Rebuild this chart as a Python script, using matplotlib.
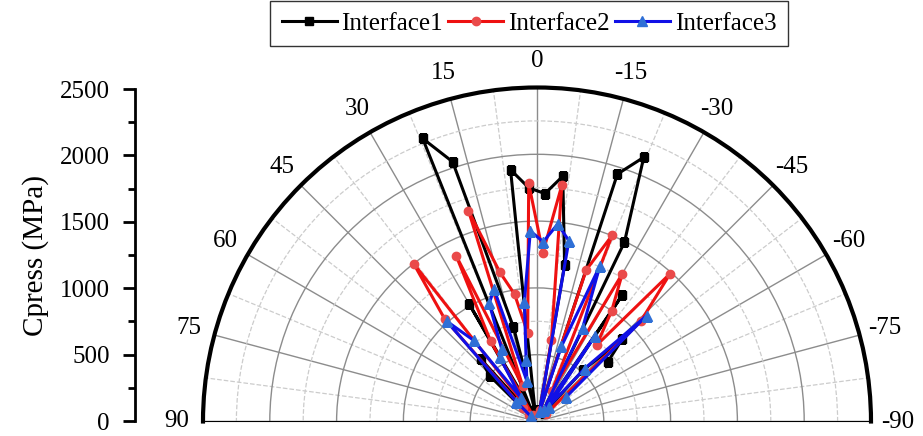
import numpy as np
import matplotlib
matplotlib.use("Agg")
import matplotlib.pyplot as plt

plt.rcParams["font.family"] = ["Liberation Serif", "DejaVu Serif"]

# angles (deg) at which Cpress was evaluated
angles = [50, 46, 42, 38, 34, 30, 26, 22, 18, 14, 10, 6, 2,
          -2, -6, -10, -14, -18, -22, -26, -30, -34, -38, -42, -46, -50]

interface1 = [60, 490, 632, 60, 80, 1019, 90, 2285, 2044, 728, 90, 1895, 1750,
              1707, 1846, 1190, 70, 1947, 2133, 1493, 90, 1140, 80, 520, 885, 689]
interface2 = [80, 150, 1032, 1500, 60, 694, 1380, 285, 1660, 1153, 968, 666, 1783,
              1265, 1778, 621, 90, 1193, 1504, 250, 1276, 1000, 724, 1490, 1079, 90]
interface3 = [60, 214, 1011, 771, 215, 560, 602, 955, 1041, 314, 470, 903, 1426,
              1346, 1486, 1374, 80, 591, 1257, 779, 100, 770, 140, 533, 1140, 282]

theta_ticks = np.arange(-90, 91, 15)
r_ticks = [0, 500, 1000, 1500, 2000, 2500]

W, H = 923, 436
cx, cy, R = 537, 421.5, 334   # centre / radius of the half disc in pixels

fig = plt.figure(figsize=(W / 100, H / 100), dpi=100)

# polar axes keeps a square box, the half wedge is centred in it
side = 2 * R
ax = fig.add_axes([(cx - R) / W, (H - (cy - R / 2) - R) / H, side / W, side / H],
                  projection="polar")
ax.set_theta_zero_location("N")
ax.set_thetamin(-90)
ax.set_thetamax(90)
ax.set_ylim(0, 2500)

th = np.deg2rad(angles)
ax.plot(th, interface1, "-s", color="black", lw=2.2, ms=6,
        label="Interface1", zorder=3)
ax.plot(th, interface2, "-o", color="#ee1111", lw=2.2, ms=6,
        mfc="#ea4a4a", mec="#ea4a4a", label="Interface2", zorder=4)
ax.plot(th, interface3, "-^", color="#1010e6", lw=2.2, ms=7,
        mfc="#2f6fd6", mec="#2f6fd6", label="Interface3", zorder=5)

# grid
ax.set_xticks(np.deg2rad(theta_ticks))
ax.set_xticklabels([str(t) for t in theta_ticks], fontsize=18)
ax.set_xticks(np.deg2rad(np.arange(-82.5, 90, 15)), minor=True)
ax.set_yticks(r_ticks[1:])
ax.set_yticks(np.arange(250, 2500, 500), minor=True)
ax.set_yticklabels([])
ax.tick_params(axis="y", which="both", length=0)
ax.tick_params(axis="x", which="major", direction="in", length=9, width=2, pad=12)
ax.tick_params(axis="x", which="minor", direction="in", length=5, width=1.5)
ax.grid(which="major", color="#8c8c8c", lw=1, ls="-")
ax.grid(which="minor", color="#cccccc", lw=0.9, ls="--")
ax.spines["polar"].set_linewidth(3)
ax.spines["start"].set_visible(False)
ax.spines["end"].set_visible(False)
ax.spines["inner"].set_visible(False)

# left radial scale
ax2 = fig.add_axes([135 / W, (H - 421) / H, 0.0005, 332 / H])
ax2.set_ylim(0, 2500)
ax2.set_yticks(r_ticks)
ax2.set_yticks(np.arange(250, 2500, 500), minor=True)
ax2.tick_params(axis="y", which="major", direction="out", length=9, width=2,
                labelsize=18, pad=9)
ax2.tick_params(axis="y", which="minor", direction="out", length=5, width=2)
ax2.set_xticks([])
for s in ["top", "right", "bottom"]:
    ax2.spines[s].set_visible(False)
ax2.spines["left"].set_linewidth(2)
ax2.patch.set_alpha(0)
ax2.set_ylabel("Cpress (MPa)", fontsize=21, labelpad=8)

fig.legend(loc="upper center", bbox_to_anchor=(529 / W, 1.0), ncol=3,
           fontsize=18, frameon=True, fancybox=False, edgecolor="black",
           handlelength=2.2, handletextpad=0.2, columnspacing=0.2,
           borderpad=0.45, borderaxespad=0.05, labelspacing=0.2)

fig.savefig("out.png", dpi=100)
